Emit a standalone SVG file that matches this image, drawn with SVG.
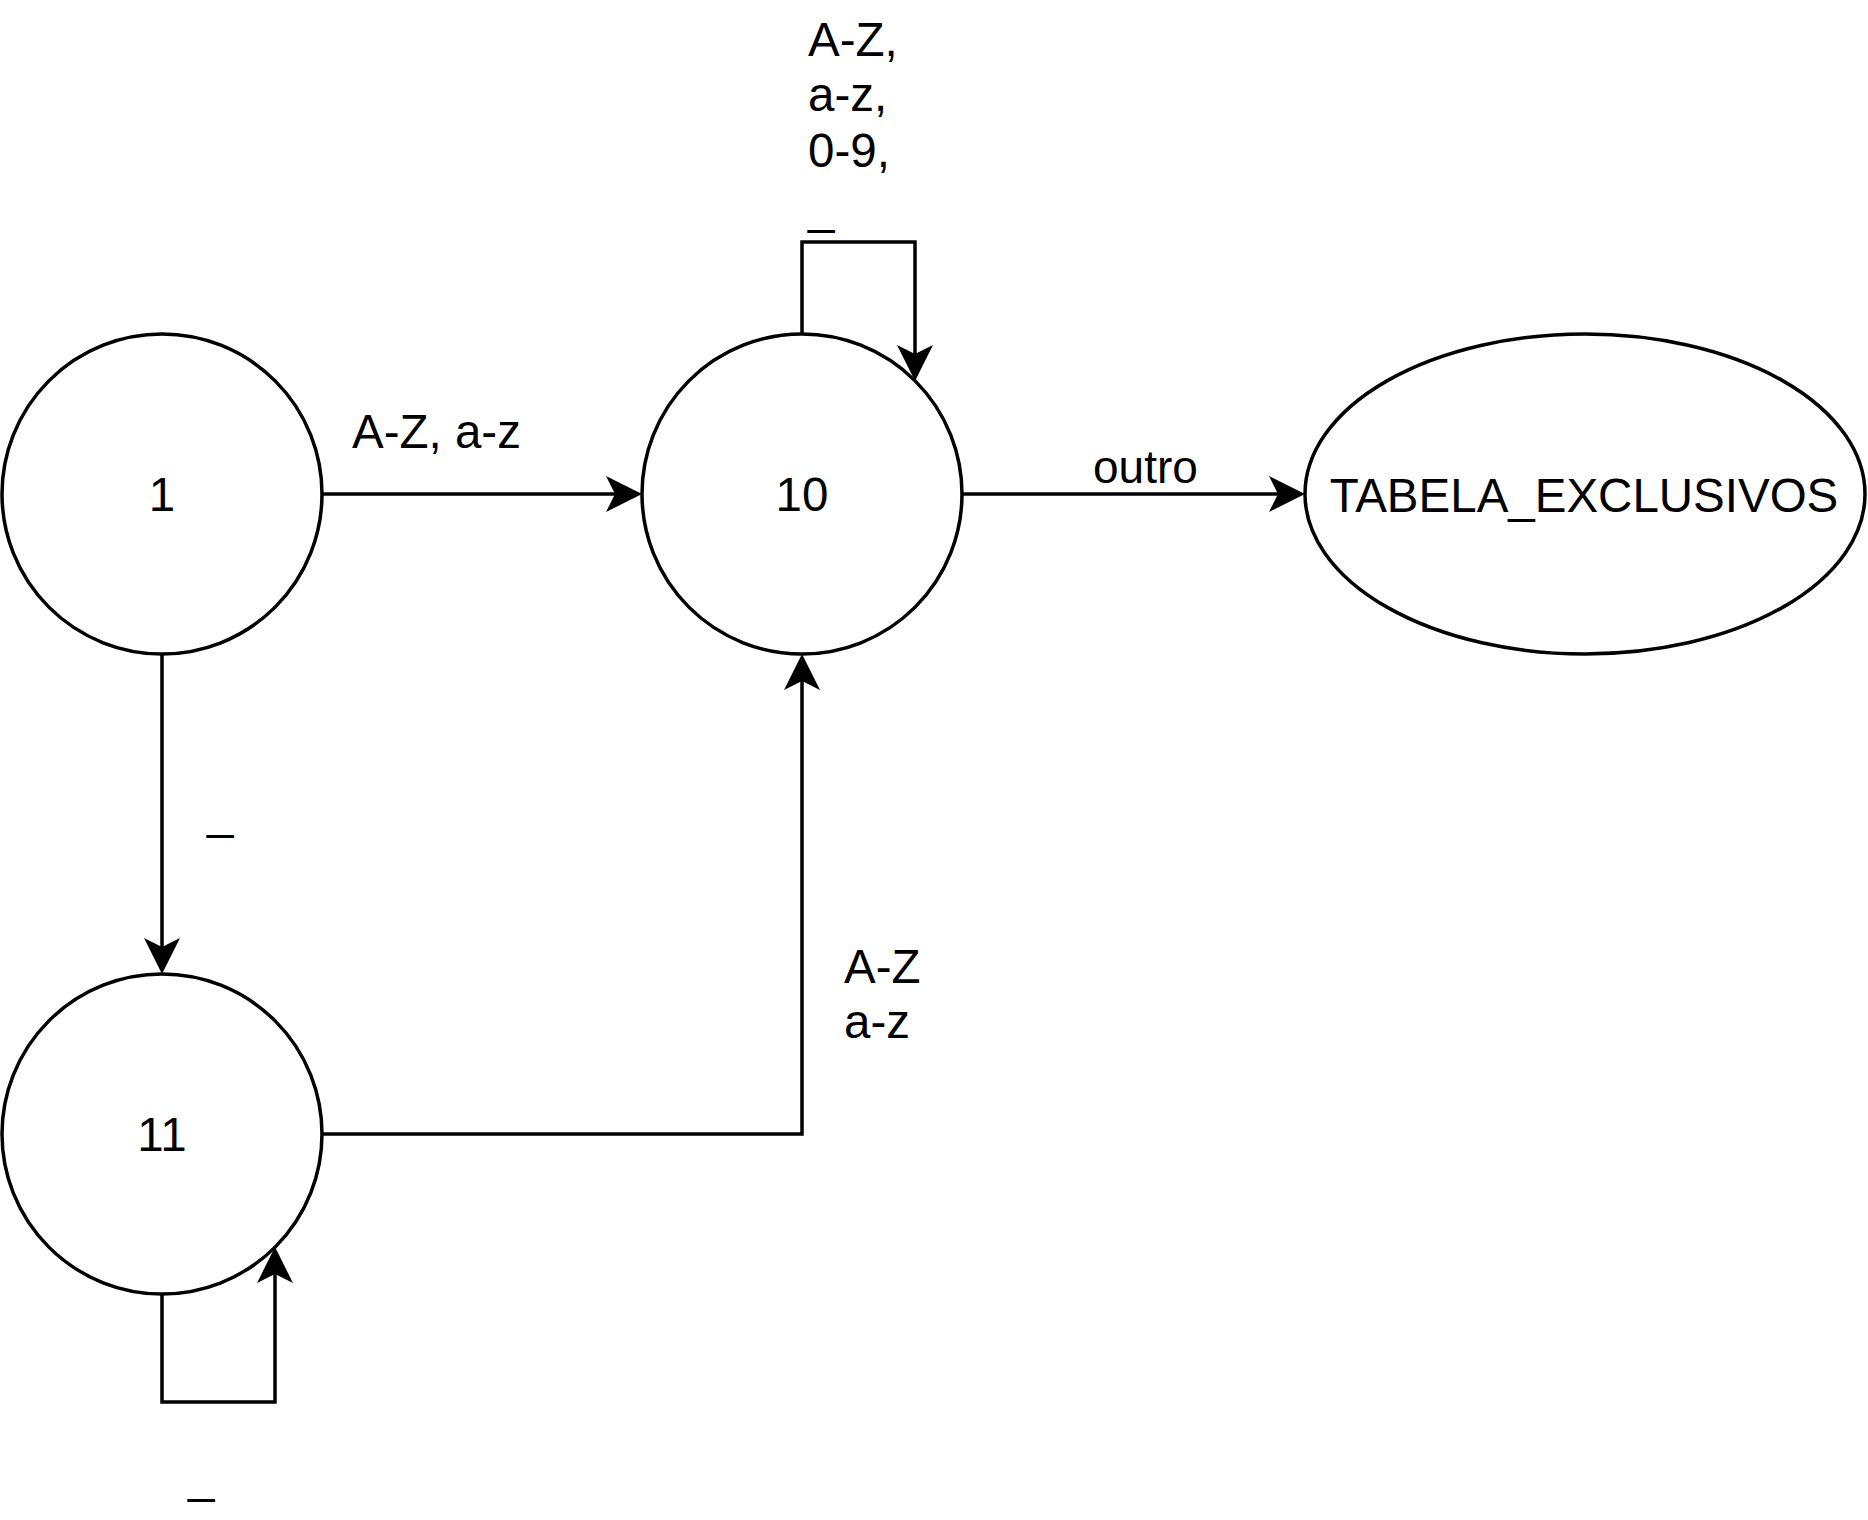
<svg xmlns="http://www.w3.org/2000/svg" width="1868" height="1520" viewBox="0 0 1868 1520">
  <style>
    .node { fill: #ffffff; stroke: #000000; stroke-width: 3.5; }
    .edge { fill: none; stroke: #000000; stroke-width: 3.5; marker-end: url(#arrow); }
    .lbl { font-family: "Liberation Sans", Arial, sans-serif; font-size: 47.5px; fill: #000000; }
    .mid { text-anchor: middle; }
  </style>
  <defs>
    <marker id="arrow" markerUnits="userSpaceOnUse" viewBox="-30 -20 42 40" markerWidth="42" markerHeight="40" refX="0" refY="0" orient="auto">
      <path d="M10,0 L-26,-18 L-17,0 L-26,18 Z" fill="#000000" stroke="none"/>
    </marker>
  </defs>
  <rect x="0" y="0" width="1868" height="1520" fill="#ffffff"/>

  <g id="connectors">
    <path class="edge" d="M322,494 L632,494"/>
    <path class="edge" d="M962,494 L1295,494"/>
    <path class="edge" d="M162,654 L162,964"/>
    <path class="edge" d="M322,1134 L802,1134 L802,664"/>
    <path class="edge" d="M802,334 L802,242 L915,242 L915,371"/>
    <path class="edge" d="M162,1294 L162,1402 L275,1402 L275,1257"/>
    <text class="lbl" x="352" y="448">A-Z, a-z</text>
    <text class="lbl" x="1093" y="483" style="font-size:46px">outro</text>
    <text class="lbl" x="207" y="828">_</text>
    <text class="lbl" x="188" y="1492">_</text>
    <text class="lbl" x="808" y="56">A-Z,</text>
    <text class="lbl" x="808" y="111">a-z,</text>
    <text class="lbl" x="808" y="167">0-9,</text>
    <text class="lbl" x="808" y="223">_</text>
    <text class="lbl" x="844" y="983">A-Z</text>
    <text class="lbl" x="844" y="1038">a-z</text>
  </g>

  <g id="node-1">
    <circle class="node" cx="162" cy="494" r="160"/>
    <text class="lbl mid" x="162" y="511">1</text>
  </g>
  <g id="node-10">
    <circle class="node" cx="802" cy="494" r="160"/>
    <text class="lbl mid" x="802" y="511">10</text>
  </g>
  <g id="node-11">
    <circle class="node" cx="162" cy="1134" r="160"/>
    <text class="lbl mid" x="162" y="1151">11</text>
  </g>
  <g id="node-tabela">
    <ellipse class="node" cx="1585" cy="494" rx="280" ry="160"/>
    <text class="lbl mid" x="1584" y="512">TABELA_EXCLUSIVOS</text>
  </g>
</svg>
